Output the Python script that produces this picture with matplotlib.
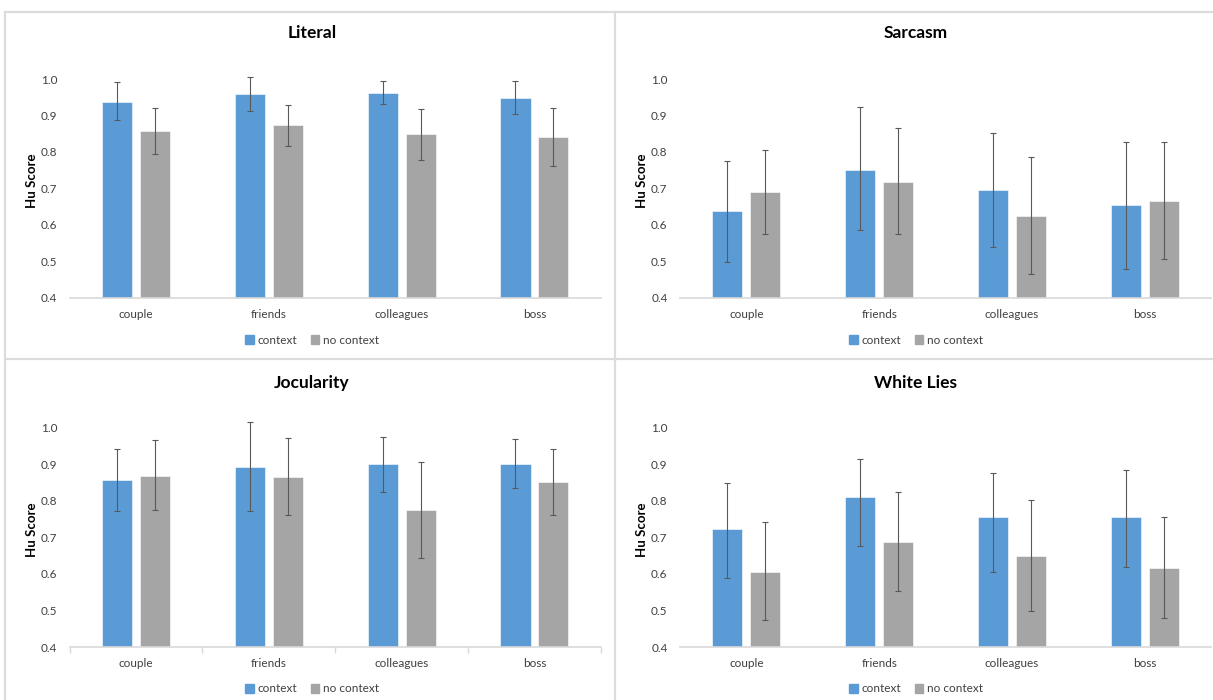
import numpy as np
from matplotlib import pyplot as plt
from matplotlib.lines import Line2D
from matplotlib.patches import Patch

plt.rcParams['font.family'] = ['Lato', 'DejaVu Sans']

categories = ['couple', 'friends', 'colleagues', 'boss']
series = ['context', 'no context']

# bar heights, and error bar upper / lower ends
literal_ctx = [0.938, 0.959, 0.962, 0.949]
literal_ctx_hi = [0.991, 1.005, 0.994, 0.994]
literal_ctx_lo = [0.887, 0.913, 0.932, 0.903]
literal_nc = [0.857, 0.873, 0.848, 0.840]
literal_nc_hi = [0.920, 0.930, 0.919, 0.920]
literal_nc_lo = [0.793, 0.816, 0.779, 0.761]

sarcasm_ctx = [0.637, 0.751, 0.695, 0.653]
sarcasm_ctx_hi = [0.776, 0.922, 0.851, 0.828]
sarcasm_ctx_lo = [0.497, 0.585, 0.540, 0.478]
sarcasm_nc = [0.690, 0.718, 0.625, 0.666]
sarcasm_nc_hi = [0.806, 0.865, 0.787, 0.826]
sarcasm_nc_lo = [0.575, 0.574, 0.464, 0.507]

jocul_ctx = [0.857, 0.892, 0.900, 0.902]
jocul_ctx_hi = [0.941, 1.015, 0.974, 0.968]
jocul_ctx_lo = [0.772, 0.771, 0.823, 0.836]
jocul_nc = [0.869, 0.865, 0.774, 0.851]
jocul_nc_hi = [0.967, 0.973, 0.907, 0.943]
jocul_nc_lo = [0.774, 0.760, 0.643, 0.761]

white_ctx = [0.724, 0.811, 0.757, 0.757]
white_ctx_hi = [0.848, 0.914, 0.876, 0.883]
white_ctx_lo = [0.588, 0.675, 0.604, 0.619]
white_nc = [0.606, 0.688, 0.650, 0.615]
white_nc_hi = [0.743, 0.824, 0.802, 0.755]
white_nc_lo = [0.473, 0.552, 0.498, 0.479]

yticks = [0.4, 0.5, 0.6, 0.7, 0.8, 0.9, 1.0]

blue = '#5B9BD5'
gray = '#A5A5A5'
txt = '#404040'
W, H = 1213.0, 700.0

fig = plt.figure(figsize=(12.13, 7.0), dpi=100)

# panel borders
bc = '#dcdcdc'
fig.add_artist(Line2D([5/W, 1], [1-12/H, 1-12/H], color=bc, lw=1.6))
fig.add_artist(Line2D([5/W, 5/W], [0, 1-12/H], color=bc, lw=1.6))
fig.add_artist(Line2D([615/W, 615/W], [0, 1-12/H], color=bc, lw=1.6))
fig.add_artist(Line2D([5/W, 1], [1-359/H, 1-359/H], color=bc, lw=1.6))

panels = [
    ('Literal', literal_ctx, literal_ctx_lo, literal_ctx_hi, literal_nc, literal_nc_lo, literal_nc_hi,
     69.6, 79, 297.7, 33, 340, False),
    ('Sarcasm', sarcasm_ctx, sarcasm_ctx_lo, sarcasm_ctx_hi, sarcasm_nc, sarcasm_nc_lo, sarcasm_nc_hi,
     680, 79, 297.7, 33, 340, False),
    ('Jocularity', jocul_ctx, jocul_ctx_lo, jocul_ctx_hi, jocul_nc, jocul_nc_lo, jocul_nc_hi,
     69.6, 427.7, 647, 383, 689, True),
    ('White Lies', white_ctx, white_ctx_lo, white_ctx_hi, white_nc, white_nc_lo, white_nc_hi,
     680, 427.7, 647, 383, 689, False),
]

x = np.arange(len(categories))
bw = 0.226
off = 0.143

for title, c, clo, chi, n, nlo, nhi, left, top, bot, ty, ly, ticks in panels:
    c = np.array(c); n = np.array(n)
    ce = [c - np.array(clo), np.array(chi) - c]
    ne = [n - np.array(nlo), np.array(nhi) - n]
    ax = fig.add_axes([left/W, 1-bot/H, 531.3/W, (bot-top)/H])
    ax.bar(x-off, c, bw, bottom=0, color=blue, edgecolor='white', linewidth=0.4, zorder=2)
    ax.bar(x+off, n, bw, bottom=0, color=gray, edgecolor='white', linewidth=0.4, zorder=2)
    ax.errorbar(x-off, c, yerr=ce, fmt='none', ecolor='#595959', elinewidth=0.8,
                capsize=2.5, capthick=0.8, zorder=3, clip_on=False)
    ax.errorbar(x+off, n, yerr=ne, fmt='none', ecolor='#595959', elinewidth=0.8,
                capsize=2.5, capthick=0.8, zorder=3, clip_on=False)
    ax.set_ylim(0.4, 1.0)
    ax.set_xlim(-0.5, len(categories)-0.5)
    ax.set_yticks(yticks)
    ax.set_yticklabels(['%.1f' % v for v in yticks])
    ax.set_xticks(x)
    ax.set_xticklabels(categories)
    for s in ['top', 'right', 'left']:
        ax.spines[s].set_visible(False)
    ax.spines['bottom'].set_color('#d9d9d9')
    ax.spines['bottom'].set_linewidth(1.2)
    ax.tick_params(axis='y', length=0, pad=9, labelsize=8.5, labelcolor=txt)
    ax.tick_params(axis='x', length=0, pad=8, labelsize=8.5, labelcolor=txt)
    if ticks:
        ax.set_xticks(np.arange(-0.5, len(categories), 1.0), minor=True)
        ax.tick_params(axis='x', which='minor', length=4, width=1, color='#d9d9d9')
    ax.patch.set_alpha(0)

    cx = (5 + 615)/2 if left < 300 else (615 + 1213)/2
    fig.text((cx+2)/W, 1-ty/H, title, ha='center', va='center', fontsize=12.5,
             fontweight='bold', color='black')
    fig.text((left-38)/W, 1-(top+bot)/2/H + 8/H, 'Hu Score', rotation=90, ha='center',
             va='center', fontsize=9.5, fontweight='bold', color='black')
    handles = [Patch(color=blue), Patch(color=gray)]
    ax.legend(handles, series, loc='center', bbox_to_anchor=((cx+2)/W, 1-ly/H),
              bbox_transform=fig.transFigure, ncol=2, frameon=False, fontsize=8.5,
              handlelength=0.7, handleheight=0.7, handletextpad=0.3, columnspacing=1.2,
              labelcolor=txt)

plt.savefig('out.png', dpi=100)
